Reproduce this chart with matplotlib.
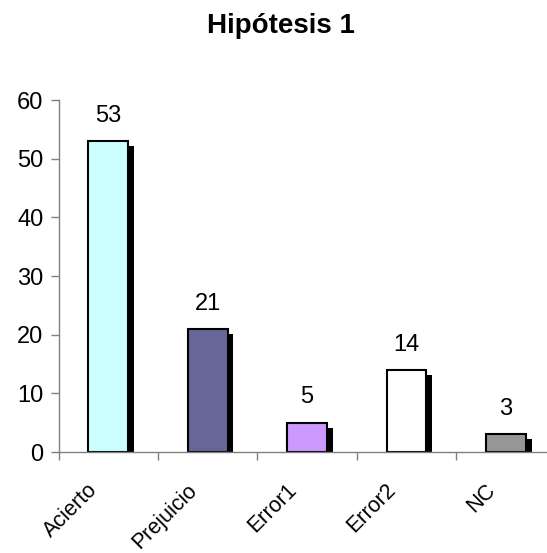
import matplotlib.pyplot as plt
import numpy as np

plt.rcParams["font.family"] = ["Liberation Sans", "DejaVu Sans"]

categories = ["Acierto", "Prejuicio", "Error1", "Error2", "NC"]
values = [53, 21, 5, 14, 3]
colors = ["#CCFFFF", "#666699", "#CC99FF", "#FFFFFF", "#969696"]

fig = plt.figure(figsize=(5.47, 5.53), dpi=100)
ax = fig.add_axes([0.107, 0.1826, 0.9086, 0.6365])

x = np.arange(len(categories))
width = 0.40
# drop shadow behind each bar, shifted right and down
ax.bar(x + 0.06, np.array(values) - 0.85, width=width, color="black", zorder=1)
ax.bar(x, values, width=width, color=colors, edgecolor="black", linewidth=1.5, zorder=2)

for xi, v in zip(x, values):
    ax.text(xi, v + 4.3, str(v), ha="center", va="center", fontsize=17)

ax.set_xlim(-0.5, len(categories) - 0.5)
ax.set_ylim(0, 60)
ax.set_yticks(range(0, 61, 10))
ax.tick_params(axis="y", labelsize=17, length=6, width=1, color="#808080", pad=5)

ax.set_xticks(np.arange(-0.5, len(categories), 1.0))
ax.set_xticklabels([])
ax.tick_params(axis="x", length=6, width=1, color="#808080")

# rotated category labels, right end just left of the category centre
for xi, name in zip(x, categories):
    ax.text(xi - 0.14, -0.10, name, transform=ax.get_xaxis_transform(),
            rotation=45, ha="right", va="center", rotation_mode="anchor", fontsize=15.5)

for side in ["top", "right"]:
    ax.spines[side].set_visible(False)
for side in ["left", "bottom"]:
    ax.spines[side].set_color("#808080")
    ax.spines[side].set_linewidth(1)

fig.text(0.514, 0.953, "Hipótesis 1", ha="center", va="center", fontsize=20, fontweight="bold")

fig.savefig("out.png", dpi=100)
